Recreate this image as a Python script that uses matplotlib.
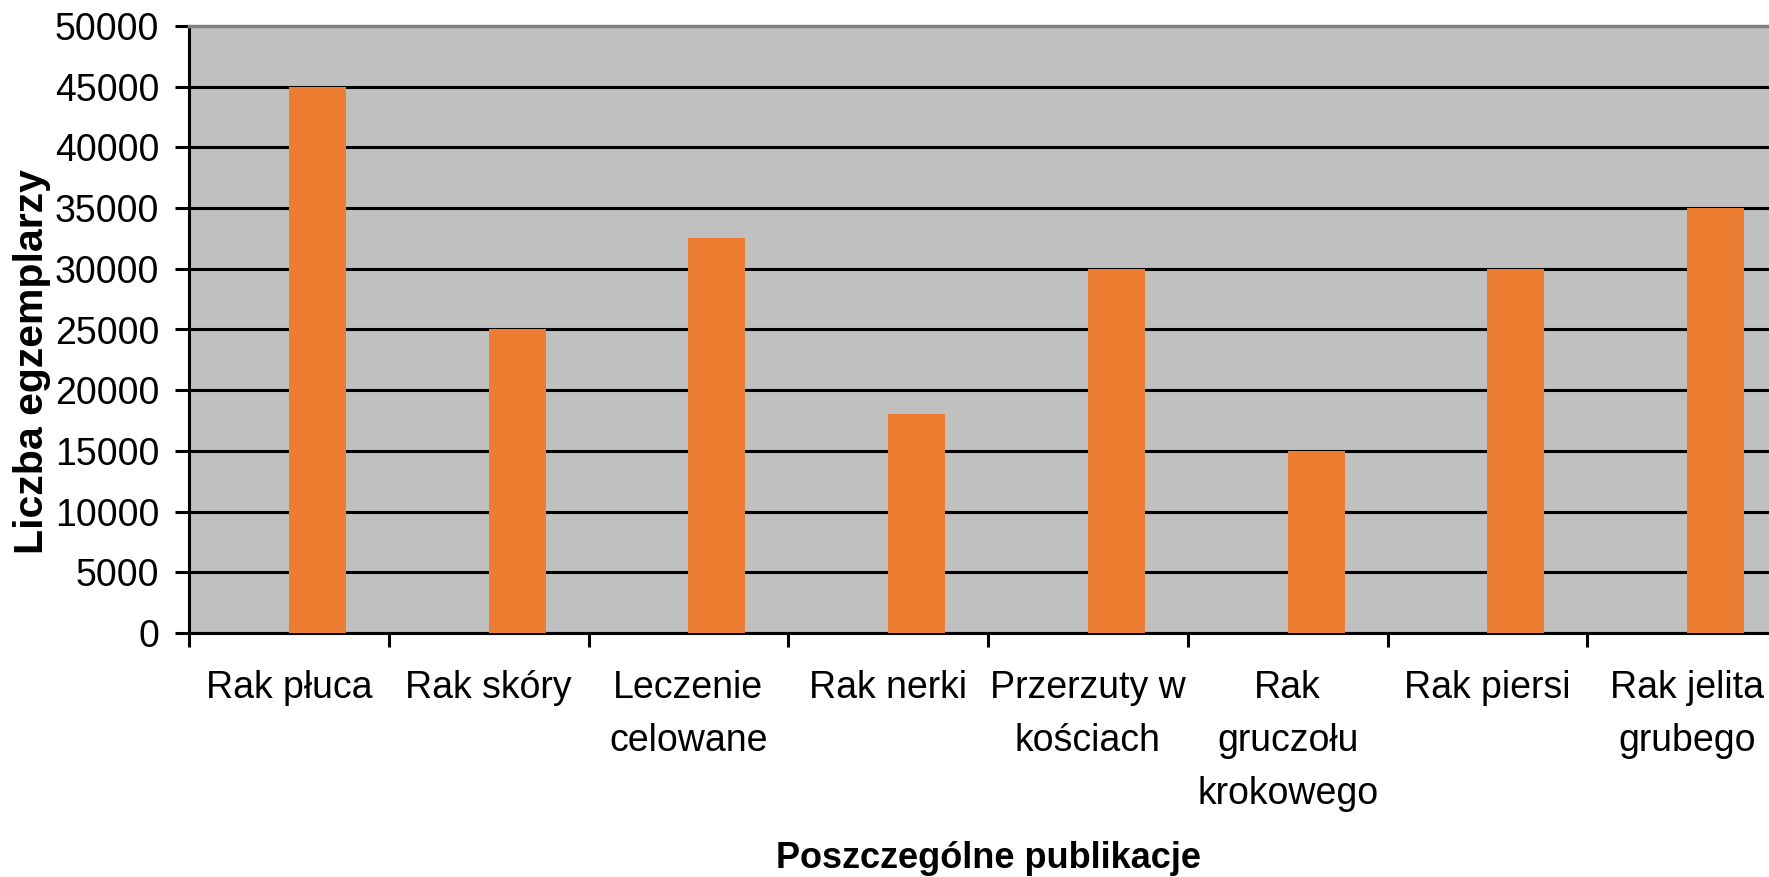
import matplotlib
matplotlib.use("Agg")
import matplotlib.pyplot as plt
import numpy as np

categories = ["Rak płuca", "Rak skóry", "Leczenie\ncelowane", "Rak nerki",
              "Przerzuty w\nkościach", "Rak\ngruczołu\nkrokowego", "Rak piersi",
              "Rak jelita\ngrubego"]
values = [45000, 25000, 32500, 18000, 30000, 15000, 30000, 35000]
yticks = [0, 5000, 10000, 15000, 20000, 25000, 30000, 35000, 40000, 45000, 50000]

plt.rcParams['font.family'] = ['Liberation Sans', 'DejaVu Sans']

W, H = 1769, 877
fig = plt.figure(figsize=(W / 100, H / 100), dpi=100)
left, right, top, bottom = 189, 1787, 26, 633
ax = fig.add_axes([left / W, 1 - bottom / H, (right - left) / W, (bottom - top) / H])
ax.set_facecolor('#C0C0C0')

n = len(categories)
x = np.arange(n)
ax.bar(x + 0.5, values, width=0.285, align='edge', color='#ED7D31', zorder=3)

ax.set_xlim(0, n)
ax.set_ylim(0, 50000)
ax.set_yticks(yticks)
ax.set_yticklabels([str(v) for v in yticks], fontsize=27)
ax.yaxis.grid(True, color='black', linewidth=2.2, zorder=1)
ax.set_axisbelow(True)

ax.set_xticks(np.arange(n + 1))
ax.set_xticklabels([])
ax.set_xticks(x + 0.5, minor=True)
ax.set_xticklabels(categories, minor=True, fontsize=27, linespacing=1.6, va='top')
ax.tick_params(axis='x', which='minor', length=0, pad=27)
ax.tick_params(axis='x', which='major', length=10, width=2.2, color='black', direction='out')
ax.tick_params(axis='y', length=10, width=2.2, color='black', pad=11.5)

for s in ['left', 'bottom']:
    ax.spines[s].set_color('black')
    ax.spines[s].set_linewidth(2.2)
ax.spines['top'].set_color('#808080')
ax.spines['top'].set_linewidth(2.5)
ax.spines['right'].set_visible(False)

fig.text(988 / W, 1 - 858 / H, "Poszczególne publikacje", fontsize=26, fontweight='bold',
         ha='center', va='center')
fig.text(32 / W, 1 - 362 / H, "Liczba egzemplarzy", fontsize=29.5, fontweight='bold',
         ha='center', va='center', rotation=90)

fig.savefig("out.png", dpi=100)
